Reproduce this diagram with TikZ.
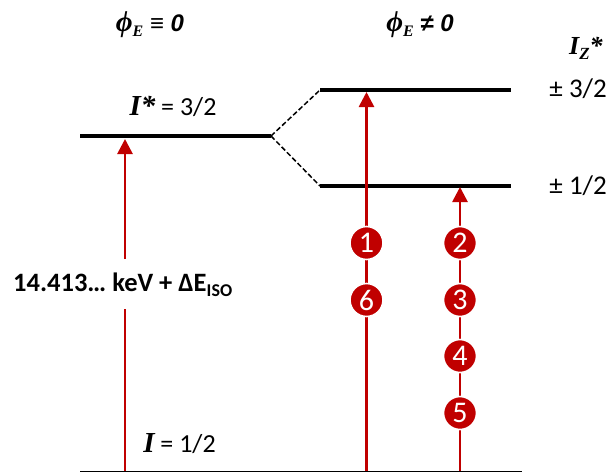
\documentclass[tikz,border=0pt]{standalone}
\usepackage{fontspec}
\setmainfont{Carlito}
\newfontfamily\serifbi{Liberation Serif}
\newfontfamily\sansbi{Liberation Sans}
\newcommand{\si}[1]{{\serifbi\bfseries\itshape #1}}
\definecolor{nred}{RGB}{192,0,0}
\usetikzlibrary{arrows.meta}
\tikzset{
  level/.style={line width=3.6pt,draw=black},
  split/.style={line width=1.5pt,draw=black,dash pattern=on 5pt off 2.6pt},
  up/.style={line width=2.7pt,draw=nred,-{Triangle[length=15pt,width=15pt]}},
  seg/.style={line width=2.7pt,draw=nred},
  badge/.style={circle,fill=nred,draw=white,line width=1.6pt,minimum size=33pt,inner sep=0pt,text=white,font=\fontsize{30}{30}\selectfont},
  lab/.style={font=\fontsize{27}{30}\selectfont,inner sep=0pt,anchor=base},
}
\begin{document}
\begin{tikzpicture}[x=1pt,y=-1pt]
\useasboundingbox (0,0) rectangle (611,472);
% levels
\coordinate (L1a) at (80,136); \coordinate (L1b) at (271,136);
\coordinate (U1) at (320,90); \coordinate (U2) at (511,90);
\coordinate (M1) at (320,186); \coordinate (M2) at (511,186);
\coordinate (B1) at (80,471.5); \coordinate (B2) at (522,471.5);
\draw[level] (L1a) -- (L1b);
\draw[level] (U1) -- (U2);
\draw[level] (M1) -- (M2);
\draw[line width=1.2pt] (B1) -- (B2);
\draw[split] (L1b) -- (U1);
\draw[split] (L1b) -- (M1);
% left arrow
\coordinate (A0) at (125,471); \coordinate (A1) at (125,139);
\node[lab,anchor=base west] (energy) at (13,291) {\fontsize{26.5}{30}\selectfont\bfseries 14.413… keV + ΔE\raisebox{-0.22em}{\fontsize{18}{18}\selectfont ISO}};
\coordinate (gapT) at (125,259); \coordinate (gapB) at (125,309);
\draw[seg] (A0) -- (gapB);
\draw[up] (gapT) -- (A1);
% middle arrow
\coordinate (C0) at (366.5,471); \coordinate (C1) at (366.5,92);
\coordinate (D0) at (460,471); \coordinate (D1) at (460,187);
\draw[up] (C0) -- (C1);
\draw[up] (D0) -- (D1);
\node[badge] (n1) at (366.5,243) {1};
\node[badge] (n6) at (366.5,300) {6};
\node[badge] (n2) at (460,243) {2};
\node[badge] (n3) at (460,300) {3};
\node[badge] (n4) at (460,356) {4};
\node[badge] (n5) at (460,413) {5};
% labels
\node[lab] (h1) at (150,31) {\fontsize{29}{29}\selectfont\si{ϕ}\raisebox{-0.2em}{\fontsize{16}{16}\selectfont\si{E}}\fontsize{24}{28}\selectfont\sansbi\bfseries\itshape\ ≡ 0};
\node[lab] (h2) at (420,31) {\fontsize{29}{29}\selectfont\si{ϕ}\raisebox{-0.2em}{\fontsize{16}{16}\selectfont\si{E}}\fontsize{24}{28}\selectfont\sansbi\bfseries\itshape\ ≠ 0};
\node[lab] (istar) at (173,115) {\fontsize{29}{30}\selectfont\si{I*}\fontsize{26}{30}\selectfont\ = 3/2};
\node[lab] (ibase) at (179.5,452.5) {\fontsize{29}{30}\selectfont\si{I}\fontsize{26}{30}\selectfont\ = 1/2};
\node[lab,anchor=base west] (iz) at (569,54) {\fontsize{26}{26}\selectfont\si{I}\raisebox{-0.2em}{\fontsize{17}{17}\selectfont\si{Z}}\si{*}};
\node[lab,anchor=base east] (p32) at (607,97) {± 3/2};
\node[lab,anchor=base east] (p12) at (607,194) {± 1/2};
\end{tikzpicture}
\end{document}
